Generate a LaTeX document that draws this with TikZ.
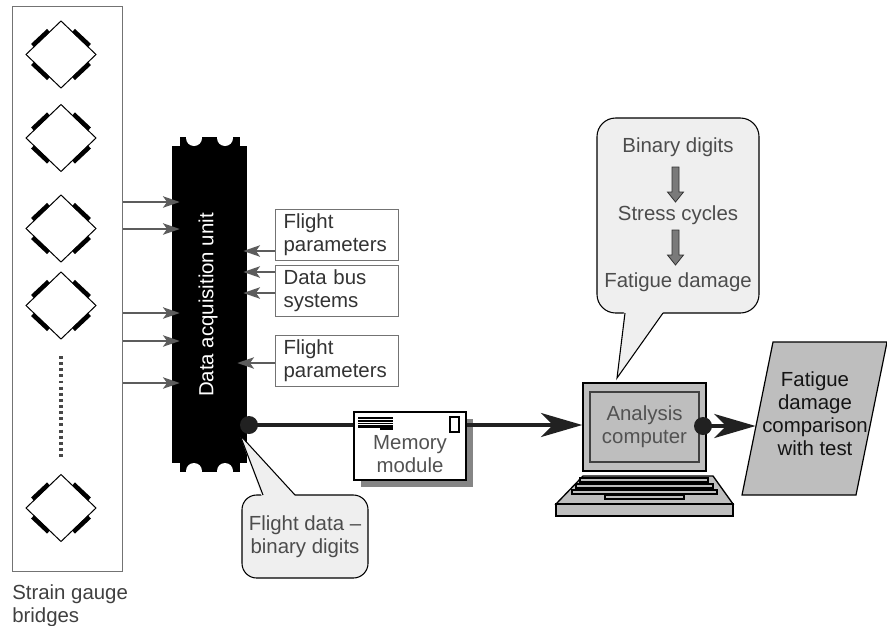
\documentclass[tikz,border=0pt]{standalone}
\usepackage{fontspec}
\setmainfont{Liberation Sans}
\usetikzlibrary{arrows.meta,calc,shadows}
\definecolor{cfill}{HTML}{EFEFEF}
\definecolor{pcfill}{HTML}{BEBEBE}
\tikzset{
  frame/.style={draw=black!55, line width=0.9pt},
  garrow/.style={draw=black!64, line width=1.7pt, -{Stealth[length=12.5pt,width=8.5pt,inset=3pt]}},
  bus/.style={draw=black!87, line width=3pt},
  bigtip/.style={-{Stealth[length=31pt,width=18pt,inset=9pt]}},
  dot/.style={circle, fill=black!87, minimum size=13.5pt, inner sep=0pt},
  pbox/.style={frame, fill=white, text width=80pt, inner xsep=6pt, inner ysep=0pt,
    minimum height=38.25pt, align=left, anchor=north west, text=black!80},
  callout/.style={draw=black, line width=0.8pt, fill=cfill, inner sep=0pt},
  ctext/.style={text=black!70, align=center},
  bridge/.pic={
    \draw[line width=0.75pt] (-35,0) -- (0,-33.5) -- (35,0) -- (0,33.5) -- cycle;
    \draw[line width=3.2pt] (-28.5,-9) -- (-12.5,-24) (12.5,-24) -- (28.5,-9)
      (-28.5,9) -- (-12.5,24) (12.5,24) -- (28.5,9);
  },
  flowarrow/.pic={
    \draw[fill=black!52, draw=black!80, line width=0.6pt] (-3.5,0) -- (3.5,0) -- (3.5,25)
      -- (8,25) -- (0,35) -- (-8,25) -- (-3.5,25) -- cycle;
  }
}
\begin{document}
\begin{tikzpicture}[x=0.75pt, y=-0.75pt, font=\fontsize{15.3}{17.3}\selectfont]
\useasboundingbox (0,0) rectangle (887,625);

% strain gauge bridges
\node[frame, minimum width=82.5pt, minimum height=423.75pt, inner sep=0pt, anchor=north west] (sg) at (12,6) {};
\pic (b1) at (61,54.5) {bridge};
\pic (b2) at (61,138) {bridge};
\pic (b3) at (61,228.5) {bridge};
\pic (b4) at (61,305.5) {bridge};
\pic (b5) at (61,508) {bridge};
\draw[black!72, line width=2.6pt, dash pattern=on 2.2pt off 2.4pt] (61,356) -- (61,460);
\node[anchor=north west, inner sep=0pt, align=left, text=black!75] (sglbl) at (12,584) {Strain gauge\\bridges};

% data acquisition unit
\node[fill=black, minimum width=56.25pt, minimum height=237.75pt, inner sep=0pt] (daq) at (209.5,304.5) {};
\fill (180,137) rectangle (240,146.5);
\fill (180,462.5) rectangle (240,472);
\fill[white] (194,138) circle[radius=6pt] (225,138) circle[radius=6pt];
\fill[white] (194,471) circle[radius=6pt] (225,471) circle[radius=6pt];
\node[rotate=90, text=white] (daqlbl) at (208,305) {Data acquisition unit};

% gauge signals
\foreach \yy in {202,229,313,341,383}
  \draw[garrow, shorten >=-6pt] (sg.east |- 0,\yy) -- (daq.west |- 0,\yy);

% other inputs
\node[pbox] (fp1) at (275,209) {Flight\\parameters};
\node[pbox] (dbs) at (275,265) {Data bus\\systems};
\node[pbox] (fp2) at (275,335) {Flight\\parameters};
\draw[garrow, shorten >=-3pt] (fp1.west |- 0,251) -- (daq.east |- 0,251);
\draw[garrow, shorten >=-3pt] (dbs.west |- 0,272) -- (daq.east |- 0,272);
\draw[garrow, shorten >=-3pt] (dbs.west |- 0,293) -- (daq.east |- 0,293);
\draw[garrow, shorten >=-7.5pt] (fp2.west |- 0,363) -- (daq.east |- 0,363);

% memory module
\node[draw=black, line width=0.9pt, fill=white, minimum width=84pt, minimum height=51pt, inner sep=0pt,
  drop shadow={shadow xshift=5.25pt, shadow yshift=-5.25pt, fill=black!48, opacity=1}] (mem) at (410,446) {};
\fill (358,417) rectangle (393,427.5);
\fill (380,427) rectangle (393,429.5);
\draw[white, line width=0.5pt] (358,419.7) -- (393,419.7) (358,422.2) -- (393,422.2) (358,424.7) -- (393,424.7);
\draw[line width=0.8pt, fill=white] (450,417) rectangle (459,432);
\node[text=black!68, align=center] (memlbl) at (410,454) {Memory\\module};

% analysis computer
\draw[draw=black, line width=1pt, fill=pcfill] (583,476) -- (713,476) -- (733,504) -- (556,504) -- cycle;
\draw[draw=black, line width=1pt, fill=pcfill] (556,504) rectangle (733,516);
\draw[line width=0.8pt, fill=pcfill] (580,478) rectangle (708,482);
\draw[line width=0.8pt, fill=pcfill] (576,484) rectangle (713,488);
\draw[line width=0.8pt, fill=pcfill] (572,490) rectangle (717,494);
\draw[line width=0.8pt, fill=pcfill] (605,495.5) rectangle (684,499);
\node[draw=black, line width=1.1pt, fill=pcfill, minimum width=92.25pt, minimum height=66pt, inner sep=0pt] (scr) at (644.5,427) {};
\node[draw=black!75, line width=1.1pt, fill=pcfill, minimum width=81.75pt, minimum height=52.5pt, inner sep=0pt,
  align=center, text=black!68] (scrin) at (644.5,427) {Analysis\\computer};

% data path
\node[dot] (d1) at (249,425) {};
\draw[bus] (d1.center) -- (mem.west |- d1.center);
\draw[bus, bigtip] (mem.east |- d1.center) -- (scr.west |- d1.center);

% result
\draw[line width=0.9pt, fill=pcfill] (773,342) -- (887,342) -- (856,495) -- (742,495) -- cycle;
\node[align=center, text=black!92] (outlbl) at (815,414) {Fatigue\\damage\\comparison\\with test};
\coordinate (outin) at (755.6,426);
\node[dot] (d2) at (703,426) {};
\draw[bus, bigtip] (d2.center) -- (outin);

% processing callout
\node[callout, rounded corners=14pt, minimum width=121.5pt, minimum height=146.25pt] (tc) at (678,215.5) {};
\fill[cfill] (624,311) -- (617,378) -- (664,311) -- cycle;
\draw[line width=0.8pt] (625,313) -- (617,378) -- (663,313);
\node[ctext] (bd) at (678,147) {Binary digits};
\node[ctext] (sc) at (678,215) {Stress cycles};
\node[ctext] (fd) at (678,282) {Fatigue damage};
\pic (a1) at (675.5,167) {flowarrow};
\pic (a2) at (675.5,230) {flowarrow};

% recorded data callout
\node[callout, rounded corners=11pt, minimum width=94.5pt, minimum height=62.25pt, ctext] (bc) at (305,536.5) {Flight data --\\binary digits};
\fill[cfill] (262,497) -- (240,435) -- (296,497) -- cycle;
\draw[line width=0.8pt] (263,495) -- (240,435) -- (295,495);
\end{tikzpicture}
\end{document}
